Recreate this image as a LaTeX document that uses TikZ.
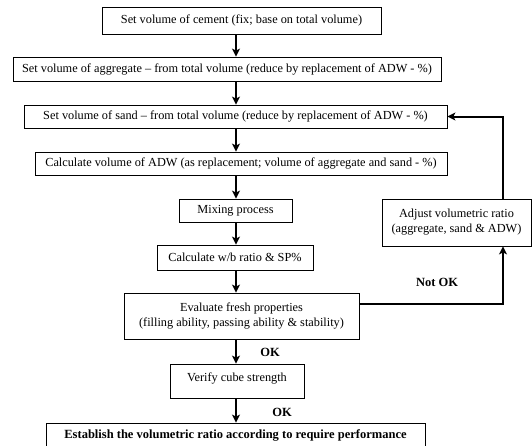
\documentclass[tikz,border=0pt]{standalone}
\usepackage{fontspec}
\setmainfont{Liberation Serif}
\usetikzlibrary{arrows.meta,calc}
\begin{document}
\begin{tikzpicture}[x=1pt,y=-1pt,
  box/.style={draw=black,line width=0.8pt,rectangle,inner sep=0pt,align=center,
    font=\fontsize{12.3}{15}\selectfont},
  conn/.style={line width=2pt,-{Stealth[length=8pt,width=8pt,inset=2pt]}},
  lbl/.style={font=\fontsize{12.5}{14}\selectfont\bfseries,inner sep=0pt}]
\clip (0,0) rectangle (532,445);
\useasboundingbox (0,0) rectangle (532,445);
\fill[white] (0,0) rectangle (532,445);
\node[box,minimum width=279,minimum height=27] (b1) at (241.5,20.5) {Set volume of cement (fix; base on total volume)};
\node[box,minimum width=428,minimum height=24] (b2) at (227,69) {Set volume of aggregate -- from total volume (reduce by replacement of ADW - \%)};
\node[box,minimum width=423,minimum height=23] (b3) at (235.5,116.5) {Set volume of sand -- from total volume (reduce by replacement of ADW - \%)};
\node[box,minimum width=412,minimum height=23] (b4) at (241,163.5) {Calculate volume of ADW (as replacement; volume of aggregate and sand - \%)};
\node[box,minimum width=113,minimum height=23] (mix) at (235.5,210.5) {Mixing process};
\node[box,minimum width=149,minimum height=47] (adj) at (456.5,222.5) {Adjust volumetric ratio\\(aggregate, sand \& ADW)};
\node[box,minimum width=156,minimum height=25] (wb) at (235,257.5) {Calculate w/b ratio \& SP\%};
\node[box,minimum width=235,minimum height=46] (ev) at (241.5,316) {Evaluate fresh properties\\(filling ability, passing ability \& stability)};
\node[box,minimum width=134,minimum height=34,text height=9pt,text depth=9pt] (ver) at (237,381) {Verify cube strength};
\node[box,minimum width=379,minimum height=25,font=\fontsize{12.5}{15}\selectfont\bfseries] (est) at (235.5,435.5) {Establish the volumetric ratio according to require performance};
\node[lbl] (ok1) at (270,352) {OK};
\node[lbl] (ok2) at (282,412) {OK};
\node[lbl] (nok) at (437,282) {Not OK};
\coordinate (ax) at (236,0);
\coordinate (lx) at (503,0);
\draw[conn] (b1.south -| ax) -- (b2.north -| ax);
\draw[conn] (b2.south -| ax) -- (b3.north -| ax);
\draw[conn] (b3.south -| ax) -- (b4.north -| ax);
\draw[conn] (b4.south -| ax) -- (mix.north -| ax);
\draw[conn] (mix.south -| ax) -- (wb.north -| ax);
\draw[conn] (wb.south -| ax) -- (ev.north -| ax);
\draw[conn] (ev.south -| ax) -- (ver.north -| ax);
\draw[conn] (ver.south -| ax) -- (est.north -| ax);
\coordinate (evr) at ($(ev.east)+(0,-12)$);
\draw[conn] (evr) -| (adj.south -| lx);
\draw[conn] (adj.north -| lx) |- (b3.east);
\end{tikzpicture}
\end{document}
